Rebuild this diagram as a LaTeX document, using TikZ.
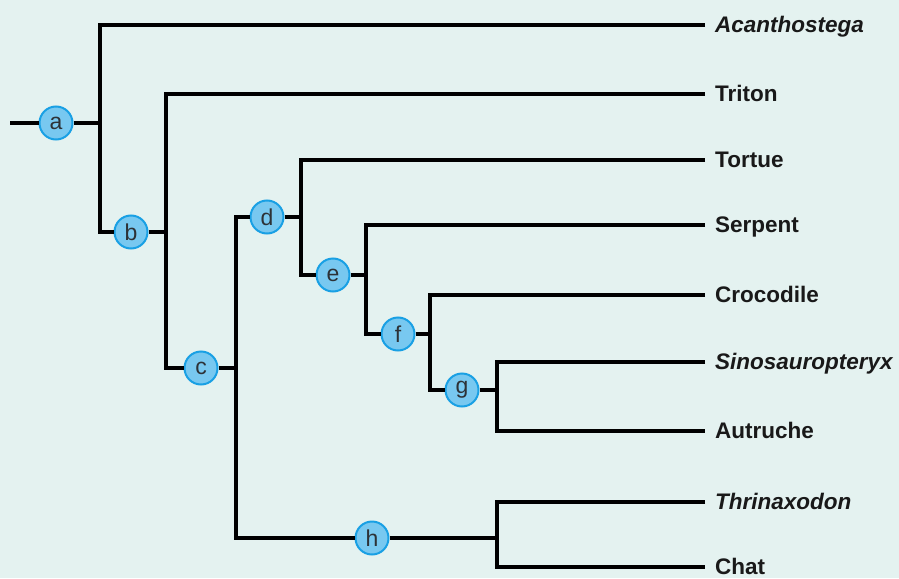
\documentclass[tikz,border=0pt]{standalone}
\usepackage{fontspec}
\setmainfont{Liberation Sans}
\definecolor{bgmint}{RGB}{228,242,240}
\definecolor{cladefill}{RGB}{120,200,240}
\definecolor{cladeborder}{RGB}{25,160,228}
\definecolor{lettergray}{RGB}{45,50,55}
\begin{document}
\begin{tikzpicture}[x=1pt,y=-1pt,
  branch/.style={line width=4.3pt, draw=black},
  clade/.style={circle, draw=cladeborder, fill=cladefill, line width=2pt,
    minimum size=33pt, inner sep=0pt, text=lettergray,
    font=\fontsize{23}{23}\selectfont},
  taxon/.style={anchor=west, inner ysep=0pt, inner xsep=10pt,
    text height=15.5pt, text depth=0pt,
    font=\fontsize{22.5}{22.5}\selectfont\bfseries, text=black!90},
  taxonit/.style={taxon, font=\fontsize{22.5}{22.5}\selectfont\bfseries\itshape}]
\fill[bgmint] (0,0) rectangle (899,578);
\useasboundingbox (0,0) rectangle (899,578);

% taxa
\node[taxonit] (Acanthostega) at (705,25) {Acanthostega};
\node[taxon] (Triton) at (705,94) {Triton};
\node[taxon] (Tortue) at (705,160) {Tortue};
\node[taxon] (Serpent) at (705,225) {Serpent};
\node[taxon] (Crocodile) at (705,295) {Crocodile};
\node[taxonit] (Sinosauropteryx) at (705,362) {Sinosauropteryx};
\node[taxon] (Autruche) at (705,431) {Autruche};
\node[taxonit] (Thrinaxodon) at (705,502) {Thrinaxodon};
\node[taxon] (Chat) at (705,567) {Chat};

% clade nodes
\node[clade] (a) at (56,123) {a};
\node[clade] (b) at (131,232) {b};
\node[clade] (c) at (201,368) {c};
\node[clade] (d) at (267,217) {d};
\node[clade] (e) at (333,275) {e};
\node[clade] (f) at (398,334) {f};
\node[clade] (g) at (462,390) {g};
\node[clade] (h) at (372,538) {h};

% junctions
\coordinate (r0) at (10,123);
\coordinate (ja) at (100,123);
\coordinate (jb) at (166,232);
\coordinate (jc) at (236,368);
\coordinate (jd) at (301,217);
\coordinate (je) at (366,275);
\coordinate (jf) at (430,334);
\coordinate (jg) at (497,390);
\coordinate (jh) at (497,538);

% branches
\draw[branch] (r0) -- (a);
\draw[branch] (a) -- (ja);
\draw[branch] (Acanthostega.west) -| (ja) |- (b);
\draw[branch] (b) -- (jb);
\draw[branch] (Triton.west) -| (jb) |- (c);
\draw[branch] (c) -- (jc);
\draw[branch] (d) -| (jc) |- (h);
\draw[branch] (d) -- (jd);
\draw[branch] (Tortue.west) -| (jd) |- (e);
\draw[branch] (e) -- (je);
\draw[branch] (Serpent.west) -| (je) |- (f);
\draw[branch] (f) -- (jf);
\draw[branch] (Crocodile.west) -| (jf) |- (g);
\draw[branch] (g) -- (jg);
\draw[branch] (Sinosauropteryx.west) -| (jg) |- (Autruche.west);
\draw[branch] (h) -- (jh);
\draw[branch] (Thrinaxodon.west) -| (jh) |- (Chat.west);
\end{tikzpicture}
\end{document}
